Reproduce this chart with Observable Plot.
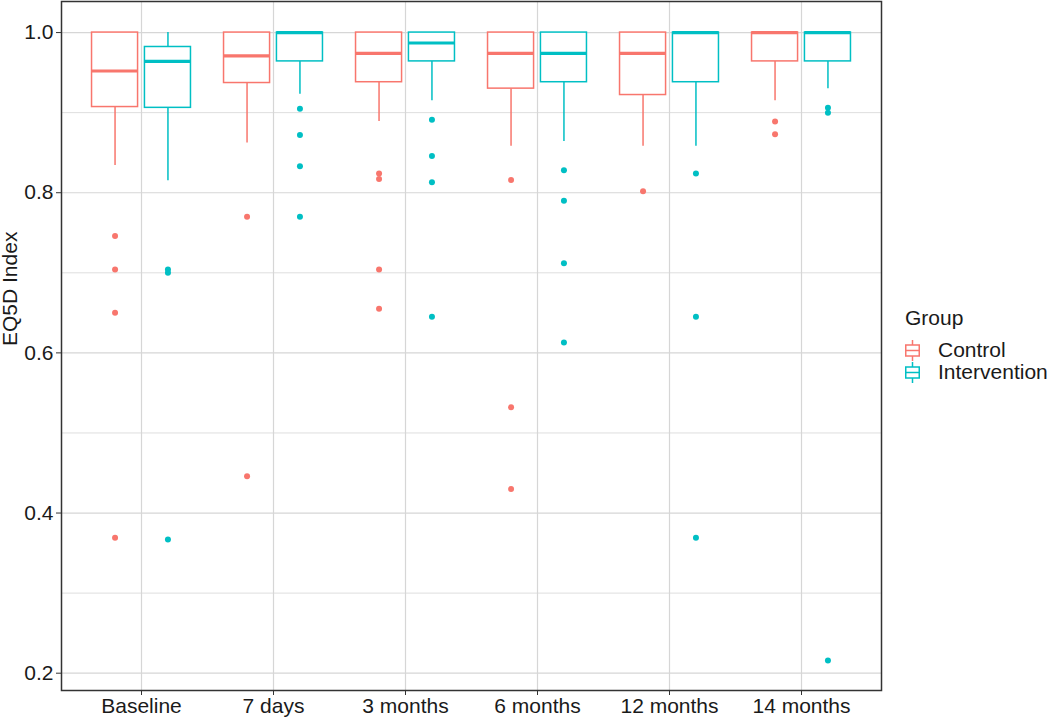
<!DOCTYPE html>
<html>
<head>
<meta charset="utf-8">
<script src="https://cdn.jsdelivr.net/npm/d3@7"></script>
<script src="https://cdn.jsdelivr.net/npm/@observablehq/plot@0.6"></script>
<style>
  body { margin: 0; background: #fff; font-family: "Liberation Sans", Arial, sans-serif; }
  #wrap { position: relative; width: 1050px; height: 718px; }
  #legend { position: absolute; left: 905px; top: 305px; font-size: 21px; color: #1a1a1a; }
  #legend .title { height: 26px; line-height: 26px; margin-bottom: 8px; }
  #legend .row { display: flex; align-items: center; height: 22px; }
  #legend .row svg { margin-right: 18px; }
</style>
</head>
<body>
<div id="wrap"></div>
<script>
// ---- data ----
const times = ["Baseline", "7 days", "3 months", "6 months", "12 months", "14 months"];
const groups = ["Control", "Intervention"];
const colors = ["#F8766D", "#00BFC4"];

const ctrlLo  = [0.834, 0.862, 0.889, 0.858, 0.858, 0.915];
const ctrlQ1  = [0.907, 0.937, 0.938, 0.930, 0.922, 0.964];
const ctrlMed = [0.952, 0.971, 0.974, 0.974, 0.974, 1.000];
const ctrlQ3  = [1.000, 1.000, 1.000, 1.000, 1.000, 1.000];
const ctrlHi  = [1.000, 1.000, 1.000, 1.000, 1.000, 1.000];
const ctrlOut = [
  [0.746, 0.704, 0.650, 0.369],
  [0.770, 0.446],
  [0.824, 0.817, 0.704, 0.655],
  [0.816, 0.532, 0.430],
  [0.802],
  [0.889, 0.873]
];

const intvLo  = [0.815, 0.923, 0.915, 0.864, 0.858, 0.930];
const intvQ1  = [0.906, 0.964, 0.964, 0.938, 0.938, 0.964];
const intvMed = [0.964, 1.000, 0.987, 0.974, 1.000, 1.000];
const intvQ3  = [0.982, 1.000, 1.000, 1.000, 1.000, 1.000];
const intvHi  = [1.000, 1.000, 1.000, 1.000, 1.000, 1.000];
const intvOut = [
  [0.704, 0.700, 0.367],
  [0.905, 0.872, 0.833, 0.770],
  [0.891, 0.846, 0.813, 0.645],
  [0.828, 0.790, 0.712, 0.613],
  [0.824, 0.645, 0.369],
  [0.906, 0.900, 0.216]
];

const yTicks = [0.2, 0.4, 0.6, 0.8, 1.0];
const yMinor = [0.3, 0.5, 0.7, 0.9];

// ---- layout ----
const W = 1050, H = 718;
const mL = 61, mR = 169, mT = 1, mB = 28;
const band = (W - mL - mR) / (times.length + 0.2);
const boxW = band * 0.35;
const dodge = band * 0.2;
const inset = (band - boxW) / 2;

function boxRows(lo, q1, med, q3, hi) {
  return times.map((t, i) => ({time: t, lo: lo[i], q1: q1[i], med: med[i], q3: q3[i], hi: hi[i]}));
}
function outRows(out) {
  return times.flatMap((t, i) => out[i].map(v => ({time: t, value: v})));
}
const series = [
  {rows: boxRows(ctrlLo, ctrlQ1, ctrlMed, ctrlQ3, ctrlHi), outs: outRows(ctrlOut), color: colors[0], dx: -dodge},
  {rows: boxRows(intvLo, intvQ1, intvMed, intvQ3, intvHi), outs: outRows(intvOut), color: colors[1], dx: dodge}
];

const boxMarks = series.flatMap(s => [
  Plot.ruleX(s.rows, {x: "time", y1: "lo", y2: "q1", dx: s.dx, stroke: s.color, strokeWidth: 1.5}),
  Plot.ruleX(s.rows, {x: "time", y1: "q3", y2: "hi", dx: s.dx, stroke: s.color, strokeWidth: 1.5}),
  Plot.barY(s.rows, {x: "time", y1: "q1", y2: "q3", dx: s.dx, insetLeft: inset, insetRight: inset, fill: "white", stroke: s.color, strokeWidth: 1.5}),
  Plot.tickY(s.rows, {x: "time", y: "med", dx: s.dx, insetLeft: inset, insetRight: inset, stroke: s.color, strokeWidth: 3.2}),
  Plot.dot(s.outs, {x: "time", y: "value", dx: s.dx, r: 3, fill: s.color, stroke: "none"})
]);

const chart = Plot.plot({
  width: W, height: H,
  marginLeft: mL, marginRight: mR, marginTop: mT, marginBottom: mB,
  style: {fontFamily: "'Liberation Sans', Arial, sans-serif", fontSize: "21px", color: "#1a1a1a", background: "white", overflow: "visible"},
  x: {domain: times, paddingInner: 0, paddingOuter: 0.1, label: null},
  y: {domain: [0.1784, 1.0388], label: null},
  marks: [
    Plot.gridY(yMinor, {stroke: "#dedede", strokeOpacity: 1, strokeWidth: 1}),
    Plot.gridY(yTicks, {stroke: "#d6d6d6", strokeOpacity: 1, strokeWidth: 1.2}),
    Plot.gridX({stroke: "#d6d6d6", strokeOpacity: 1, strokeWidth: 1.2}),
    ...boxMarks,
    Plot.axisY(yTicks, {tickFormat: d3.format(".1f"), tickSize: 5, tickPadding: 3, stroke: "#333", label: null, fill: "#1a1a1a"}),
    Plot.axisX({tickSize: 5, tickPadding: 3, stroke: "#333", label: null, fill: "#1a1a1a"}),
    Plot.text(["EQ5D Index"], {text: d => d, frameAnchor: "left", rotate: -90, dx: -51, fontSize: 21, fill: "#1a1a1a"}),
    Plot.frame({stroke: "#333", strokeWidth: 1.5})
  ]
});

const wrap = document.getElementById("wrap");
wrap.appendChild(chart);

// ---- legend ----
const legend = document.createElement("div");
legend.id = "legend";
const glyph = c => `<svg width="15" height="21" viewBox="0 0 15 21">
  <line x1="7.5" x2="7.5" y1="0" y2="5" stroke="${c}" stroke-width="1.5"/>
  <rect x="0.75" y="5" width="13.5" height="11" fill="white" stroke="${c}" stroke-width="1.5"/>
  <line x1="0.75" x2="14.25" y1="10.5" y2="10.5" stroke="${c}" stroke-width="1.5"/>
  <line x1="7.5" x2="7.5" y1="16" y2="21" stroke="${c}" stroke-width="1.5"/>
</svg>`;
legend.innerHTML = `<div class="title">Group</div>` +
  groups.map((g, i) => `<div class="row">${glyph(colors[i])}<span>${g}</span></div>`).join("");
wrap.appendChild(legend);
</script>
</body>
</html>
